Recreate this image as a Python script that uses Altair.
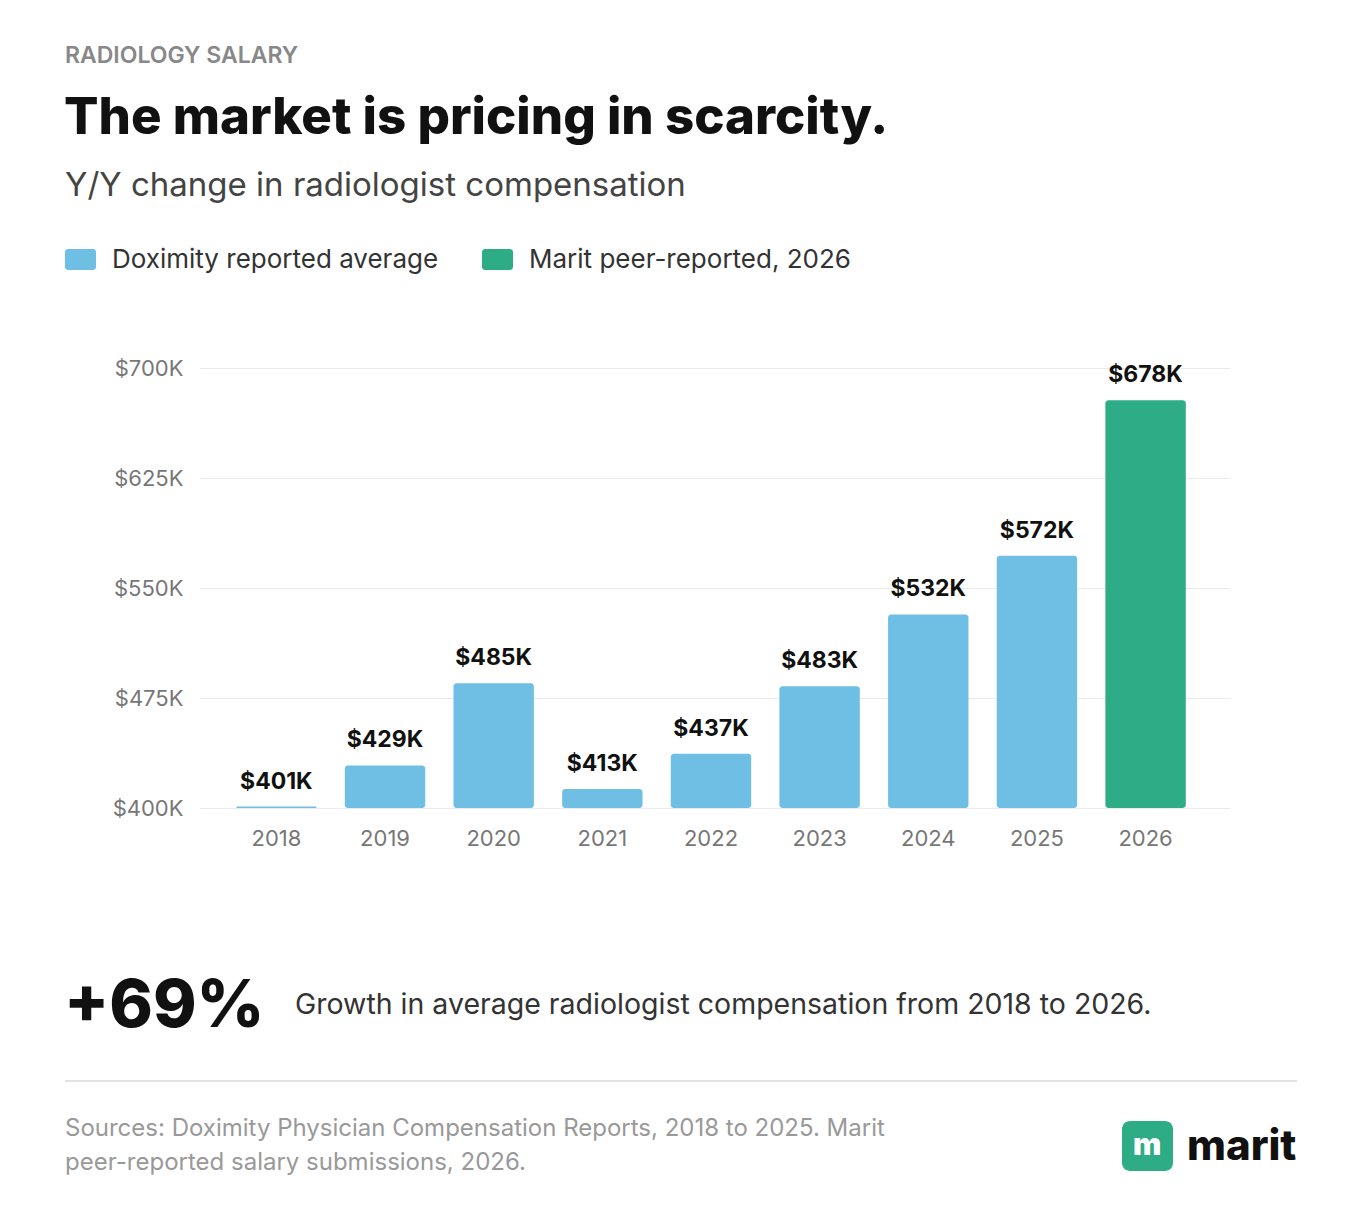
import pandas as pd
import altair as alt

years = ["2018", "2019", "2020", "2021", "2022", "2023", "2024", "2025", "2026"]
salary_k = [401, 429, 485, 413, 437, 483, 532, 572, 678]
source = ["Doximity reported average"] * 8 + ["Marit peer-reported, 2026"]

df = pd.DataFrame({"year": years, "salary": salary_k, "source": source})
df["label"] = "$" + df["salary"].astype(str) + "K"

FONT = "Inter"
BLUE, GREEN = "#6fbfe4", "#2eac86"
X0, Y0 = 200, 368  # plot origin on the page

base = alt.Chart(df)
x = alt.X("year:N", title=None, scale=alt.Scale(paddingInner=0.26, paddingOuter=0.37, align=0.45),
          axis=alt.Axis(labelFontSize=22, labelColor="#777", labelFont=FONT, ticks=False,
                        domain=False, grid=False, labelPadding=20, labelAngle=0))
y = alt.Y("salary:Q", title=None, scale=alt.Scale(domain=[400, 700], nice=False, zero=False),
          axis=alt.Axis(values=[400, 475, 550, 625, 700], labelExpr="'$' + datum.value + 'K'",
                        labelFontSize=22, labelColor="#777", labelFont=FONT, ticks=False,
                        domain=False, labelPadding=17, gridColor="#ebebeb"))

bars = base.mark_bar(cornerRadius=3).encode(
    x=x, y=y, y2=alt.datum(400),
    color=alt.Color("source:N", scale=alt.Scale(domain=[source[0], source[-1]], range=[BLUE, GREEN]),
                    legend=None))
labels = base.mark_text(dy=-13, baseline="bottom", fontSize=23, fontWeight="bold",
                        font=FONT, color="#111").encode(x=x, y=y, text="label:N")


def txt(s, px, py, size, color="#111", weight="normal", baseline="middle"):
    return alt.Chart(pd.DataFrame({"t": [s]})).mark_text(
        align="left", baseline=baseline, fontSize=size, fontWeight=weight, font=FONT, color=color
    ).encode(x=alt.value(px - X0), y=alt.value(py - Y0), text="t:N")


def box(px1, py1, px2, py2, color, r=3):
    return alt.Chart(pd.DataFrame({"a": [0]})).mark_rect(color=color, cornerRadius=r).encode(
        x=alt.value(px1 - X0), x2=alt.value(px2 - X0), y=alt.value(py1 - Y0), y2=alt.value(py2 - Y0))


extras = [
    txt("RADIOLOGY SALARY", 65, 56, 23, "#888", 600),
    txt("The market is pricing in scarcity.", 64, 119, 51, "#111", 800),
    txt("Y/Y change in radiologist compensation", 65, 186, 33, "#444"),
    box(65, 249, 96, 270, BLUE),
    txt("Doximity reported average", 112, 260, 26, "#333"),
    box(482, 249, 513, 270, GREEN),
    txt("Marit peer-reported, 2026", 529, 260, 26, "#333"),
    txt("+69%", 64, 1007, 66, "#111", 800),
    txt("Growth in average radiologist compensation from 2018 to 2026.", 295, 1005, 28.5, "#333"),
    box(65, 1080, 1297, 1082, "#e2e2e2", 0),
    txt("Sources: Doximity Physician Compensation Reports, 2018 to 2025. Marit", 65, 1129, 24, "#999"),
    txt("peer-reported salary submissions, 2026.", 65, 1163, 24, "#999"),
    box(1122, 1121, 1173, 1171, GREEN, 8),
    txt("m", 1133, 1146, 30, "white", 900),
    txt("marit", 1187, 1147, 42, "#111", 800),
]

chart = alt.layer(bars, labels, *extras).properties(
    width=1030, height=440,
    autosize=alt.AutoSizeParams(type="none"),
    padding={"left": X0 - 8, "top": Y0 - 8, "right": 110, "bottom": 400},
).configure(background="white").configure_view(strokeWidth=0, stroke=None)

chart.save("out.html", embed_options={"renderer": "svg", "actions": False})
